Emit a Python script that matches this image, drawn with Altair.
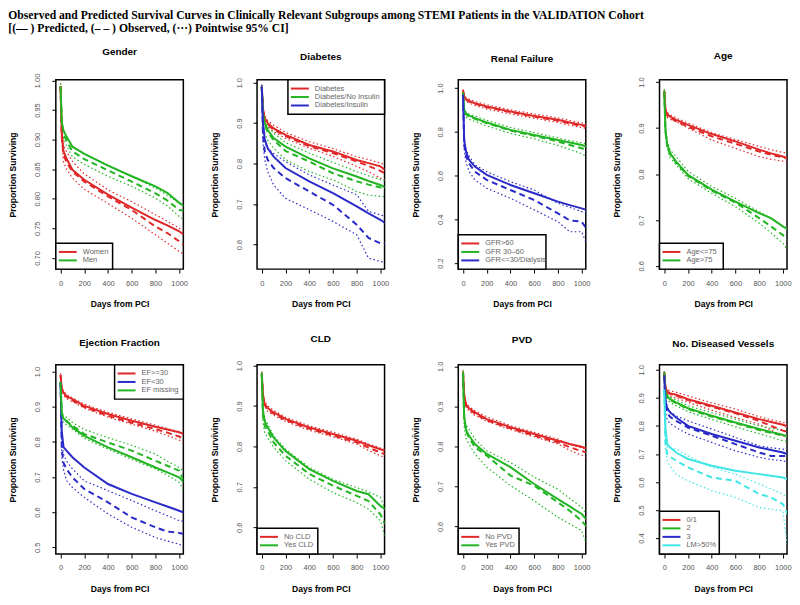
import altair as alt
import pandas as pd

# ---------------- data ----------------
DAYS = [0, 10, 25, 50, 100, 200, 400, 600, 800, 900, 1000, 1040]
X_TICKS = [0, 200, 400, 600, 800, 1000]

# Gender
WOMEN = dict(
    pred=[0.99, 0.91, 0.88, 0.868, 0.849, 0.832, 0.807, 0.785, 0.764, 0.755, 0.745, 0.739],
    obs=[0.99, 0.905, 0.875, 0.862, 0.846, 0.829, 0.804, 0.781, 0.753, 0.742, 0.728, 0.722],
    lo=[0.985, 0.895, 0.862, 0.85, 0.835, 0.816, 0.792, 0.767, 0.739, 0.725, 0.711, 0.706],
    hi=[0.995, 0.915, 0.89, 0.88, 0.863, 0.842, 0.815, 0.795, 0.773, 0.762, 0.75, 0.745])
MEN = dict(
    pred=[0.99, 0.93, 0.915, 0.905, 0.888, 0.876, 0.856, 0.838, 0.821, 0.81, 0.793, 0.788],
    obs=[0.99, 0.925, 0.91, 0.898, 0.88, 0.867, 0.848, 0.829, 0.809, 0.797, 0.781, 0.78],
    lo=[0.985, 0.918, 0.902, 0.89, 0.871, 0.858, 0.838, 0.821, 0.801, 0.788, 0.77, 0.765],
    hi=[0.995, 0.932, 0.917, 0.906, 0.888, 0.876, 0.857, 0.838, 0.818, 0.806, 0.793, 0.79])

# Diabetes
DIAB = dict(
    pred=[0.99, 0.935, 0.912, 0.9, 0.887, 0.871, 0.846, 0.83, 0.809, 0.801, 0.793, 0.784],
    obs=[0.99, 0.93, 0.908, 0.897, 0.884, 0.868, 0.843, 0.826, 0.805, 0.794, 0.782, 0.775],
    lo=[0.985, 0.925, 0.902, 0.89, 0.879, 0.862, 0.838, 0.818, 0.793, 0.78, 0.764, 0.76],
    hi=[0.995, 0.94, 0.917, 0.906, 0.895, 0.877, 0.854, 0.837, 0.817, 0.81, 0.801, 0.798])
DIAB_NOINS = dict(
    pred=[0.99, 0.925, 0.9, 0.883, 0.863, 0.842, 0.813, 0.788, 0.768, 0.757, 0.747, 0.742],
    obs=[0.99, 0.92, 0.895, 0.878, 0.858, 0.831, 0.805, 0.776, 0.756, 0.748, 0.741, 0.74],
    lo=[0.985, 0.905, 0.875, 0.858, 0.838, 0.81, 0.78, 0.76, 0.731, 0.722, 0.719, 0.718],
    hi=[0.995, 0.935, 0.913, 0.895, 0.875, 0.852, 0.826, 0.803, 0.78, 0.77, 0.76, 0.757])
DIAB_INS = dict(
    pred=[0.99, 0.9, 0.86, 0.838, 0.817, 0.789, 0.756, 0.727, 0.694, 0.677, 0.661, 0.653],
    obs=[0.99, 0.87, 0.83, 0.809, 0.789, 0.764, 0.731, 0.698, 0.649, 0.616, 0.603, 0.603],
    lo=[0.985, 0.85, 0.81, 0.78, 0.747, 0.714, 0.686, 0.657, 0.624, 0.566, 0.558, 0.556],
    hi=[0.995, 0.885, 0.852, 0.838, 0.825, 0.805, 0.772, 0.747, 0.723, 0.682, 0.673, 0.67])

# Renal failure
GFR_HI = dict(
    pred=[0.99, 0.96, 0.95, 0.942, 0.931, 0.916, 0.893, 0.873, 0.855, 0.843, 0.832, 0.829],
    obs=[0.99, 0.958, 0.948, 0.94, 0.929, 0.913, 0.89, 0.87, 0.851, 0.838, 0.828, 0.825],
    lo=[0.985, 0.95, 0.94, 0.932, 0.921, 0.905, 0.882, 0.862, 0.843, 0.83, 0.82, 0.816],
    hi=[0.995, 0.966, 0.957, 0.95, 0.939, 0.924, 0.901, 0.882, 0.864, 0.852, 0.841, 0.838])
GFR_MID = dict(
    pred=[0.98, 0.9, 0.885, 0.875, 0.863, 0.843, 0.809, 0.786, 0.763, 0.751, 0.74, 0.733],
    obs=[0.98, 0.895, 0.88, 0.871, 0.86, 0.84, 0.806, 0.782, 0.756, 0.74, 0.725, 0.718],
    lo=[0.975, 0.885, 0.868, 0.858, 0.848, 0.827, 0.793, 0.768, 0.738, 0.72, 0.7, 0.687],
    hi=[0.985, 0.905, 0.89, 0.882, 0.872, 0.853, 0.82, 0.797, 0.772, 0.76, 0.75, 0.745])
GFR_LO = dict(
    pred=[0.97, 0.76, 0.71, 0.672, 0.641, 0.603, 0.557, 0.519, 0.481, 0.465, 0.45, 0.443],
    obs=[0.97, 0.74, 0.69, 0.656, 0.618, 0.58, 0.534, 0.488, 0.427, 0.395, 0.389, 0.359],
    lo=[0.96, 0.72, 0.66, 0.62, 0.58, 0.542, 0.496, 0.443, 0.389, 0.343, 0.343, 0.29],
    hi=[0.98, 0.78, 0.72, 0.69, 0.649, 0.618, 0.572, 0.534, 0.473, 0.455, 0.435, 0.427])

# Age
AGE_YOUNG = dict(
    pred=[0.98, 0.94, 0.93, 0.925, 0.918, 0.907, 0.887, 0.871, 0.853, 0.845, 0.838, 0.834],
    obs=[0.98, 0.938, 0.927, 0.922, 0.915, 0.903, 0.882, 0.866, 0.849, 0.842, 0.836, 0.835],
    lo=[0.975, 0.934, 0.923, 0.919, 0.914, 0.9, 0.874, 0.856, 0.838, 0.832, 0.828, 0.827],
    hi=[0.985, 0.945, 0.934, 0.929, 0.922, 0.911, 0.89, 0.875, 0.86, 0.853, 0.847, 0.845])
AGE_OLD = dict(
    pred=[0.98, 0.896, 0.865, 0.845, 0.827, 0.798, 0.766, 0.74, 0.715, 0.704, 0.686, 0.68],
    obs=[0.98, 0.894, 0.862, 0.843, 0.825, 0.796, 0.764, 0.738, 0.704, 0.686, 0.667, 0.657],
    lo=[0.975, 0.885, 0.855, 0.835, 0.82, 0.79, 0.758, 0.729, 0.693, 0.672, 0.649, 0.635],
    hi=[0.985, 0.905, 0.872, 0.852, 0.838, 0.806, 0.773, 0.747, 0.718, 0.703, 0.686, 0.678])

# Ejection fraction
EF_OK = dict(
    pred=[0.99, 0.95, 0.94, 0.93, 0.921, 0.902, 0.879, 0.86, 0.843, 0.835, 0.827, 0.822],
    obs=[0.99, 0.948, 0.938, 0.928, 0.918, 0.899, 0.874, 0.854, 0.836, 0.826, 0.815, 0.808],
    lo=[0.985, 0.944, 0.933, 0.923, 0.914, 0.896, 0.87, 0.85, 0.83, 0.818, 0.805, 0.798],
    hi=[0.995, 0.955, 0.945, 0.934, 0.925, 0.907, 0.884, 0.865, 0.847, 0.838, 0.828, 0.822])
EF_LOW = dict(
    pred=[0.97, 0.83, 0.785, 0.775, 0.756, 0.727, 0.68, 0.652, 0.628, 0.616, 0.604, 0.599],
    obs=[0.97, 0.78, 0.74, 0.723, 0.699, 0.666, 0.628, 0.585, 0.557, 0.545, 0.541, 0.538],
    lo=[0.96, 0.76, 0.72, 0.69, 0.67, 0.642, 0.595, 0.557, 0.528, 0.518, 0.509, 0.502],
    hi=[0.98, 0.8, 0.765, 0.745, 0.723, 0.689, 0.661, 0.633, 0.604, 0.59, 0.576, 0.574])
EF_MISS = dict(
    pred=[0.97, 0.879, 0.866, 0.86, 0.841, 0.817, 0.784, 0.756, 0.727, 0.713, 0.699, 0.685],
    obs=[0.97, 0.875, 0.865, 0.858, 0.846, 0.822, 0.798, 0.775, 0.746, 0.732, 0.718, 0.689],
    lo=[0.96, 0.865, 0.855, 0.848, 0.836, 0.81, 0.779, 0.75, 0.723, 0.705, 0.685, 0.661],
    hi=[0.98, 0.885, 0.875, 0.869, 0.855, 0.835, 0.812, 0.79, 0.765, 0.745, 0.727, 0.713])

# CLD
CLD_NO = dict(
    pred=[0.98, 0.926, 0.905, 0.895, 0.884, 0.868, 0.847, 0.831, 0.814, 0.803, 0.793, 0.789],
    obs=[0.98, 0.924, 0.902, 0.892, 0.881, 0.865, 0.844, 0.827, 0.81, 0.797, 0.785, 0.781],
    lo=[0.975, 0.92, 0.898, 0.887, 0.877, 0.862, 0.84, 0.824, 0.806, 0.79, 0.777, 0.773],
    hi=[0.985, 0.932, 0.91, 0.9, 0.889, 0.872, 0.851, 0.835, 0.818, 0.806, 0.796, 0.793])
CLD_YES = dict(
    pred=[0.98, 0.888, 0.862, 0.847, 0.822, 0.789, 0.744, 0.715, 0.69, 0.682, 0.653, 0.645],
    obs=[0.98, 0.875, 0.85, 0.839, 0.81, 0.777, 0.732, 0.703, 0.678, 0.665, 0.632, 0.608],
    lo=[0.975, 0.86, 0.835, 0.822, 0.798, 0.765, 0.719, 0.686, 0.661, 0.645, 0.616, 0.575],
    hi=[0.985, 0.89, 0.867, 0.855, 0.827, 0.793, 0.748, 0.719, 0.698, 0.688, 0.674, 0.645])

# PVD
PVD_NO = dict(
    pred=[0.985, 0.927, 0.905, 0.895, 0.885, 0.868, 0.848, 0.831, 0.814, 0.806, 0.799, 0.795],
    obs=[0.985, 0.925, 0.903, 0.893, 0.882, 0.865, 0.845, 0.827, 0.81, 0.798, 0.788, 0.785],
    lo=[0.98, 0.92, 0.898, 0.888, 0.878, 0.863, 0.842, 0.824, 0.806, 0.79, 0.778, 0.773],
    hi=[0.99, 0.932, 0.91, 0.9, 0.889, 0.874, 0.852, 0.835, 0.818, 0.805, 0.796, 0.793])
PVD_YES = dict(
    pred=[0.985, 0.873, 0.842, 0.827, 0.806, 0.781, 0.748, 0.706, 0.668, 0.65, 0.631, 0.618],
    obs=[0.985, 0.87, 0.838, 0.822, 0.798, 0.777, 0.727, 0.702, 0.66, 0.639, 0.614, 0.6],
    lo=[0.98, 0.85, 0.82, 0.806, 0.781, 0.748, 0.702, 0.664, 0.623, 0.606, 0.589, 0.558],
    hi=[0.99, 0.88, 0.853, 0.843, 0.818, 0.789, 0.76, 0.723, 0.693, 0.67, 0.648, 0.631])

# No. diseased vessels
VES_01 = dict(
    pred=[0.99, 0.937, 0.922, 0.916, 0.911, 0.895, 0.872, 0.848, 0.824, 0.814, 0.804, 0.798],
    obs=[0.99, 0.935, 0.92, 0.914, 0.908, 0.892, 0.868, 0.845, 0.818, 0.8, 0.783, 0.779],
    lo=[0.985, 0.93, 0.914, 0.906, 0.9, 0.884, 0.856, 0.83, 0.806, 0.785, 0.765, 0.76],
    hi=[0.995, 0.942, 0.93, 0.925, 0.92, 0.907, 0.882, 0.86, 0.833, 0.822, 0.812, 0.81])
VES_2 = dict(
    pred=[0.99, 0.919, 0.905, 0.895, 0.884, 0.863, 0.836, 0.812, 0.789, 0.778, 0.768, 0.761],
    obs=[0.99, 0.917, 0.902, 0.892, 0.881, 0.86, 0.833, 0.81, 0.785, 0.775, 0.766, 0.765],
    lo=[0.985, 0.91, 0.895, 0.883, 0.872, 0.851, 0.823, 0.797, 0.772, 0.76, 0.747, 0.745],
    hi=[0.995, 0.926, 0.912, 0.903, 0.893, 0.872, 0.847, 0.824, 0.8, 0.792, 0.783, 0.78])
VES_3 = dict(
    pred=[0.98, 0.89, 0.862, 0.848, 0.83, 0.8, 0.771, 0.747, 0.723, 0.714, 0.705, 0.699],
    obs=[0.98, 0.875, 0.845, 0.832, 0.818, 0.794, 0.765, 0.735, 0.705, 0.693, 0.693, 0.693],
    lo=[0.97, 0.85, 0.822, 0.808, 0.794, 0.771, 0.741, 0.711, 0.688, 0.68, 0.676, 0.67],
    hi=[0.99, 0.9, 0.866, 0.85, 0.836, 0.818, 0.789, 0.759, 0.729, 0.722, 0.717, 0.715])
VES_LM = dict(
    pred=[0.93, 0.794, 0.735, 0.723, 0.705, 0.682, 0.658, 0.64, 0.628, 0.622, 0.616, 0.61],
    obs=[0.93, 0.74, 0.699, 0.69, 0.676, 0.652, 0.616, 0.604, 0.557, 0.545, 0.521, 0.485],
    lo=[0.92, 0.72, 0.676, 0.655, 0.628, 0.604, 0.569, 0.545, 0.509, 0.503, 0.497, 0.367],
    hi=[0.94, 0.76, 0.723, 0.72, 0.717, 0.693, 0.652, 0.628, 0.593, 0.575, 0.557, 0.545])

# ---------------- styling ----------------
RED, GREEN, BLUE, CYAN = "#e02828", "#22b422", "#2a2ac8", "#3fe6e6"
W, H = 128, 190
X_DOM = [-40, 1035]
PAD, ROWH = 4.5, 8.5
SANS = "Liberation Sans"


def panel(title, groups, ydom, yticks, fmt, corner, legend_w):
    rows = []
    for label, _, curves in groups:
        for kind in ("pred", "obs", "lo", "hi"):
            for d, v in zip(DAYS, curves[kind]):
                rows.append({"day": d, "val": v, "grp": label, "kind": kind})
    df = pd.DataFrame(rows)
    names = [g[0] for g in groups]
    cols = [g[1] for g in groups]

    x = alt.X("day:Q", scale=alt.Scale(domain=X_DOM, nice=False, zero=False),
              axis=alt.Axis(values=X_TICKS, format="d", title="Days from PCI"))
    y = alt.Y("val:Q", scale=alt.Scale(domain=ydom, nice=False, zero=False),
              axis=alt.Axis(values=yticks, format=fmt, title="Proportion Surviving",
                            labelAngle=270, labelAlign="center", labelBaseline="bottom"))
    color = alt.Color("grp:N", scale=alt.Scale(domain=names, range=cols), legend=None)
    base = alt.Chart(df).encode(x=x, y=y, color=color)

    ci = base.transform_filter("datum.kind == 'lo' || datum.kind == 'hi'").mark_line(
        strokeWidth=1.2, strokeDash=[1.5, 2.5], clip=True).encode(detail="kind:N")
    obs = base.transform_filter("datum.kind == 'obs'").mark_line(
        strokeWidth=2, strokeDash=[6, 4], clip=True)
    pred = base.transform_filter("datum.kind == 'pred'").mark_line(strokeWidth=2, clip=True)
    layers = [ci, obs, pred]

    # R-style boxed legend
    n = len(groups)
    h = 2 * PAD + n * ROWH
    x0 = 0 if corner == "bl" else W - legend_w
    y0 = H - h if corner == "bl" else 0
    dummy = pd.DataFrame({"k": [0]})
    layers.append(alt.Chart(dummy).mark_rect(fill="white", stroke="black", strokeWidth=1.5).encode(
        x=alt.value(x0), x2=alt.value(x0 + legend_w), y=alt.value(y0), y2=alt.value(y0 + h)))
    for i, (label, col, _) in enumerate(groups):
        yy = y0 + PAD + (i + 0.5) * ROWH
        layers.append(alt.Chart(dummy).mark_rule(color=col, strokeWidth=2).encode(
            x=alt.value(x0 + 3), x2=alt.value(x0 + 21), y=alt.value(yy)))
        layers.append(alt.Chart(dummy).mark_text(
            text=label, align="left", baseline="middle", fontSize=7.5, color="#666", font=SANS).encode(
            x=alt.value(x0 + 27), y=alt.value(yy)))

    return alt.layer(*layers).properties(
        width=W, height=H,
        title=alt.TitleParams(title, fontSize=10, fontWeight="bold", font=SANS, offset=16, color="black"))


t2 = [0.70, 0.75, 0.80, 0.85, 0.90, 0.95, 1.00]
p_gender = panel("Gender", [("Women", RED, WOMEN), ("Men", GREEN, MEN)],
                 [0.681, 1.001], t2, ".2f", "bl", 57)
p_diab = panel("Diabetes", [("Diabetes", RED, DIAB), ("Diabetes/No Insulin", GREEN, DIAB_NOINS),
                            ("Diabetes/Insulin", BLUE, DIAB_INS)],
               [0.539, 1.007], [0.6, 0.7, 0.8, 0.9, 1.0], ".1f", "tr", 97)
p_renal = panel("Renal Failure", [("GFR>60", RED, GFR_HI), ("GFR 30\u201360", GREEN, GFR_MID),
                                  ("GFR<=30/Dialysis", BLUE, GFR_LO)],
                [0.172, 1.038], [0.2, 0.4, 0.6, 0.8, 1.0], ".1f", "bl", 88)
p_age = panel("Age", [("Age<=75", RED, AGE_YOUNG), ("Age>75", GREEN, AGE_OLD)],
              [0.593, 1.005], [0.6, 0.7, 0.8, 0.9, 1.0], ".1f", "bl", 64)
p_ef = panel("Ejection Fraction", [("EF>=30", RED, EF_OK), ("EF<30", BLUE, EF_LOW),
                                   ("EF missing", GREEN, EF_MISS)],
             [0.481, 1.019], [0.5, 0.6, 0.7, 0.8, 0.9, 1.0], ".1f", "tr", 69)
p_cld = panel("CLD", [("No CLD", RED, CLD_NO), ("Yes CLD", GREEN, CLD_YES)],
              [0.534, 1.002], [0.6, 0.7, 0.8, 0.9, 1.0], ".1f", "bl", 61)
p_pvd = panel("PVD", [("No PVD", RED, PVD_NO), ("Yes PVD", GREEN, PVD_YES)],
              [0.531, 1.004], [0.6, 0.7, 0.8, 0.9, 1.0], ".1f", "bl", 61)
p_ves = panel("No. Diseased Vessels", [("0/1", RED, VES_01), ("2", GREEN, VES_2),
                                       ("3", BLUE, VES_3), ("LM>50%", CYAN, VES_LM)],
              [0.343, 1.018], [0.4, 0.5, 0.6, 0.7, 0.8, 0.9, 1.0], ".1f", "bl", 60)

row1 = alt.hconcat(p_gender, p_diab, p_renal, p_age, spacing=21).resolve_scale(
    x="independent", y="independent", color="independent")
row2 = alt.hconcat(p_ef, p_cld, p_pvd, p_ves, spacing=21).resolve_scale(
    x="independent", y="independent", color="independent")

chart = alt.vconcat(row1, row2, spacing=24).resolve_scale(
    x="independent", y="independent", color="independent"
).properties(
    title=alt.TitleParams(
        ["Observed and Predicted Survival Curves in Clinically Relevant Subgroups among STEMI Patients in the VALIDATION Cohort",
         "[(\u2014 ) Predicted, (\u2013 \u2013 ) Observed, (\u00b7\u00b7\u00b7) Pointwise 95% CI]"],
        anchor="start", font="Liberation Serif", fontSize=11.7, fontWeight="bold",
        lineHeight=13, offset=12, color="black"),
    padding={"left": 0, "top": 0, "right": 0, "bottom": 0},
).configure_view(
    stroke="black", strokeWidth=1.5
).configure_axis(
    grid=False, domain=False, ticks=True, tickColor="black", tickSize=4, tickWidth=1,
    labelColor="#555", labelFont=SANS, labelFontSize=7.5,
    titleFont=SANS, titleFontSize=8.6, titleFontWeight="bold", titleColor="black"
).configure_axisX(
    labelPadding=6, titlePadding=13
).configure_axisY(
    labelPadding=10, titlePadding=16
)

chart.save("out.html", embed_options={"renderer": "svg", "actions": False})
